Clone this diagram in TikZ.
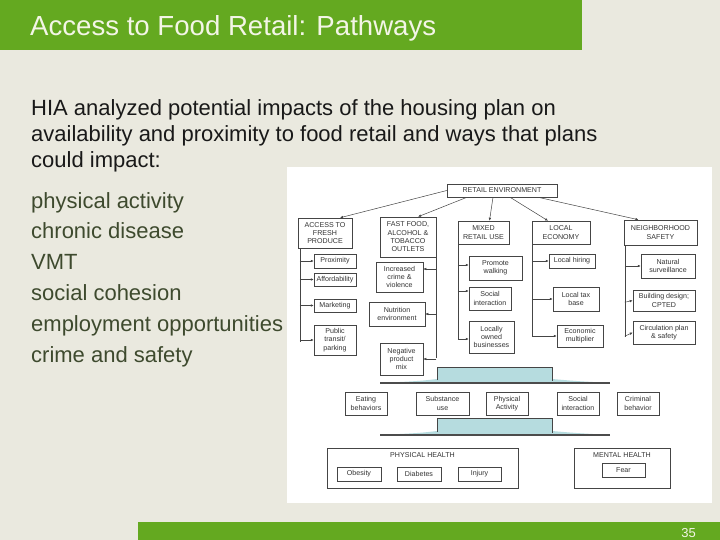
\documentclass[tikz,border=0pt]{standalone}
\usepackage{fontspec}
\setmainfont{Liberation Sans}
\usetikzlibrary{arrows.meta,calc}
\definecolor{bgc}{HTML}{EAE9DF}
\definecolor{grn}{HTML}{64A920}
\definecolor{tealA}{HTML}{B6DCDF}
\definecolor{listc}{HTML}{3E4A2E}
\definecolor{ttl}{HTML}{F3F5E6}
\definecolor{dg}{HTML}{454545}
\newcommand\dgmfont{\fontsize{7.1}{8.3}\selectfont}
\begin{document}
\begin{tikzpicture}[x=1pt,y=-1pt,
  bx/.style={draw=dg, line width=0.5pt, fill=white, inner sep=0pt, align=center, font=\dgmfont, text=black!80},
  lbl/.style={inner sep=0pt, align=center, font=\dgmfont, text=black!80},
  ln/.style={draw=dg, line width=0.5pt},
  arr/.style={ln, -{Latex[length=3pt,width=2.6pt]}},
  body/.style={anchor=base west, inner sep=0pt, font=\fontsize{22}{26}\selectfont, text=black!90},
  lst/.style={anchor=base west, inner sep=0pt, font=\fontsize{22}{26}\selectfont, text=listc},
  tealarrow/.style={fill=tealA},
  teal edge/.style={draw=black!70, line width=1.2pt}
]
\useasboundingbox (0,0) rectangle (720,540);
\fill[bgc] (0,0) rectangle (720,540);
\fill[grn] (0,0) rectangle (582,50);
\fill[grn] (138,522) rectangle (720,540);
\fill[white] (287,167) rectangle (712,503);

\node[anchor=base west, inner sep=0pt, text=ttl, font=\fontsize{27.6}{32}\selectfont] (title) at (30,36) {Access to Food Retail: Pathways};
\node[anchor=base east, inner sep=0pt, text=ttl, font=\fontsize{13}{15}\selectfont] (pg) at (696,537) {35};

\node[body] (b1) at (31,116) {HIA analyzed potential impacts of the housing plan on};
\node[body] (b2) at (31,142) {availability and proximity to food retail and ways that plans};
\node[body] (b3) at (31,168) {could impact:};

\node[lst] (l1) at (31,208) {physical activity};
\node[lst] (l2) at (31,239) {chronic disease};
\node[lst] (l3) at (31,269) {VMT};
\node[lst] (l4) at (31,300) {social cohesion};
\node[lst] (l5) at (31,331) {employment opportunities};
\node[lst] (l6) at (31,362) {crime and safety};

% teal arrows
\fill[tealarrow] (437,367) -- (552,367) -- (552,379) .. controls (575,381) .. (610,383) -- (380,383) .. controls (420,381) .. (437,379) -- cycle;
\draw[ln] (437,380) -- (437,367) -- (552,367) -- (552,381);
\draw[teal edge] (380,383) -- (610,383);
\fill[tealarrow] (437,418) -- (552,418) -- (552,431) .. controls (575,433) .. (610,435) -- (380,435) .. controls (420,433) .. (437,431) -- cycle;
\draw[ln] (437,432) -- (437,418) -- (552,418) -- (552,433);
\draw[teal edge] (380,435) -- (610,435);

% top level
\node[bx, minimum width=110pt, minimum height=13pt] (ret) at (502,190.5) {RETAIL ENVIRONMENT};
\node[bx, minimum width=54pt, minimum height=30pt] (acc) at (325,233) {ACCESS TO\\FRESH\\PRODUCE};
\node[bx, minimum width=56pt, minimum height=40pt] (fast) at (408,237) {FAST FOOD,\\ALCOHOL \&\\TOBACCO\\OUTLETS};
\node[bx, minimum width=51pt, minimum height=23pt] (mix) at (483.5,232.5) {MIXED\\RETAIL USE};
\node[bx, minimum width=58pt, minimum height=23pt] (loc) at (561,232.5) {LOCAL\\ECONOMY};
\node[bx, minimum width=73pt, minimum height=25pt] (nbh) at (660.5,232.5) {NEIGHBORHOOD\\SAFETY};

% second level
\node[bx, minimum width=42pt, minimum height=14pt] (prox) at (335,261) {Proximity};
\node[bx, minimum width=42pt, minimum height=13pt] (aff) at (335,279.5) {Affordability};
\node[bx, minimum width=42pt, minimum height=13pt] (mkt) at (335,305.5) {Marketing};
\node[bx, minimum width=42pt, minimum height=30pt] (pub) at (335,340) {Public\\transit/\\parking};
\node[bx, minimum width=47pt, minimum height=30pt] (inc) at (399.5,277) {Increased\\crime \&\\violence};
\node[bx, minimum width=56pt, minimum height=24pt] (nut) at (397,314) {Nutrition\\environment};
\node[bx, minimum width=43pt, minimum height=32pt] (neg) at (401.5,359) {Negative\\product\\mix};
\node[bx, minimum width=53pt, minimum height=24pt] (prom) at (495.5,268) {Promote\\walking};
\node[bx, minimum width=42pt, minimum height=23pt] (soc) at (490,298.5) {Social\\interaction};
\node[bx, minimum width=45pt, minimum height=32pt] (lob) at (491.5,337) {Locally\\owned\\businesses};
\node[bx, minimum width=46pt, minimum height=14pt] (hire) at (572,261) {Local hiring};
\node[bx, minimum width=46pt, minimum height=24pt] (tax) at (576,299) {Local tax\\base};
\node[bx, minimum width=46pt, minimum height=22pt] (econ) at (580,336) {Economic\\multiplier};
\node[bx, minimum width=54pt, minimum height=24pt] (nat) at (668,266) {Natural\\surveillance};
\node[bx, minimum width=62pt, minimum height=21pt] (bld) at (664,300.5) {Building design;\\CPTED};
\node[bx, minimum width=62pt, minimum height=23pt] (circ) at (664,332.5) {Circulation plan\\\& safety};

% middle row
\node[bx, minimum width=42pt, minimum height=23pt] (eat) at (366,403.5) {Eating\\behaviors};
\node[bx, minimum width=53pt, minimum height=23pt] (sub) at (442.5,403.5) {Substance\\use};
\node[bx, minimum width=42pt, minimum height=23pt] (phys) at (507,403.5) {Physical\\Activity};
\node[bx, minimum width=42pt, minimum height=23pt] (soc2) at (578,403.5) {Social\\interaction};
\node[bx, minimum width=42pt, minimum height=23pt] (crim) at (638,403.5) {Criminal\\behavior};

% health boxes
\node[bx, minimum width=191pt, minimum height=40pt] (ph) at (422.5,468) {};
\node[lbl] (phl) at (422.5,455) {PHYSICAL HEALTH};
\node[bx, minimum width=44pt, minimum height=14pt] (ob) at (359,474) {Obesity};
\node[bx, minimum width=44pt, minimum height=14pt] (dia) at (419,474) {Diabetes};
\node[bx, minimum width=43pt, minimum height=14pt] (inj) at (479.5,474) {Injury};
\node[bx, minimum width=96pt, minimum height=40pt] (mh) at (622,468) {};
\node[lbl] (mhl) at (622,455) {MENTAL HEALTH};
\node[bx, minimum width=43pt, minimum height=14pt] (fear) at (623.5,470) {Fear};

% top connectors
\draw[arr] (ret.west) -- ([xshift=15pt]acc.north);
\draw[arr] ([xshift=-35pt]ret.south) -- ([xshift=10pt]fast.north);
\draw[arr] ([xshift=-9pt]ret.south) -- ([xshift=6pt]mix.north);
\draw[arr] ([xshift=8pt]ret.south) -- ([xshift=-13pt]loc.north);
\draw[arr] ([xshift=36pt]ret.south) -- ([xshift=-22pt]nbh.north);

% access tree
\coordinate (ax) at ([xshift=2pt]acc.south west);
\draw[ln] (ax) -- ++(0,94);
\foreach \n in {prox,aff,mkt,pub} \draw[arr] (ax |- \n.west) -- (\n.west);

% fast food tree
\coordinate (fx) at (fast.south east);
\draw[ln] (fx) -- ++(0,101);
\coordinate (incp) at ([yshift=8pt]inc.east);
\draw[arr] (fx |- incp) -- (incp);
\draw[arr] (fx |- nut.east) -- (nut.east);
\draw[arr] (fx |- neg.east) -- (neg.east);

% mixed tree
\coordinate (mx) at (mix.south west);
\draw[ln] (mx) -- ++(0,95);
\coordinate (promp) at ([yshift=3pt]prom.west);
\coordinate (socp) at ([yshift=7.5pt]soc.west);
\coordinate (lobp) at ([yshift=-2pt]lob.west);
\foreach \n in {promp,socp,lobp} \draw[arr] (mx |- \n) -- (\n);

% local tree
\coordinate (lx) at (loc.south west);
\draw[ln] (lx) -- ++(0,92);
\foreach \n in {hire,tax,econ} \draw[arr] (lx |- \n.west) -- (\n.west);

% neighborhood tree
\coordinate (nx) at ([xshift=1pt]nbh.south west);
\draw[ln] (nx) -- ++(0,92);
\draw[arr] (nx |- nat.west) -- (nat.west);
\draw[arr] ($(nx)+(0,57)$) -- (bld.west);
\draw[arr] ($(nx)+(0,91)$) -- (circ.west);
\end{tikzpicture}
\end{document}
